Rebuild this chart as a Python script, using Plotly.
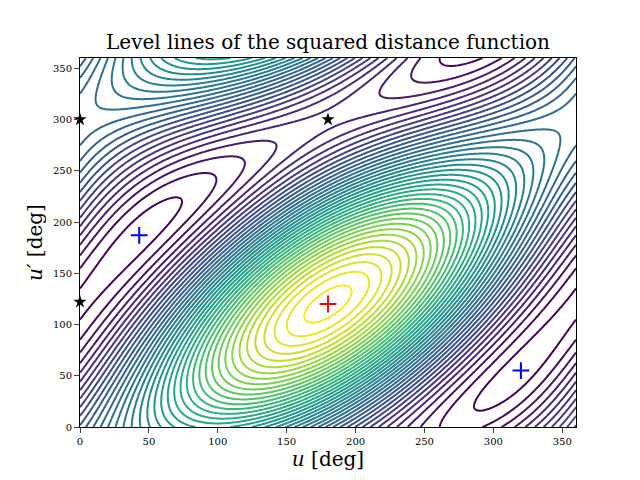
import numpy as np
import plotly.graph_objects as go

# critical points
max_u, max_v = [180], [120]
min_u, min_v = [43, 320], [187, 55]
sad_u, sad_v = [0, 0, 180], [122, 300, 300]
xticks = [0, 50, 100, 150, 200, 250, 300, 350]

# periodic model of the squared distance (cosine terms about the maximum)
A, B, C = 1.0, 0.6, 0.44
u = np.linspace(0, 360, 361)
v = np.linspace(0, 360, 361)
U, V = np.meshgrid(u, v)
x = np.radians(U - max_u[0]); y = np.radians(V - max_v[0])
Z = A*np.cos(x - y) + B*np.cos(x) + C*np.cos(y)

fig = go.Figure()
fig.add_trace(go.Contour(x=u, y=v, z=Z, colorscale="Viridis", showscale=False,
    contours=dict(coloring="lines", start=Z.min()+0.04, end=Z.max(), size=(Z.max()-Z.min())/40),
    line=dict(width=2)))
fig.add_trace(go.Scatter(x=max_u, y=max_v, mode="markers",
    marker=dict(symbol="cross-thin", size=12, line=dict(color="red", width=2))))
fig.add_trace(go.Scatter(x=min_u, y=min_v, mode="markers",
    marker=dict(symbol="cross-thin", size=12, line=dict(color="blue", width=2))))
fig.add_trace(go.Scatter(x=sad_u, y=sad_v, mode="markers", cliponaxis=False,
    marker=dict(symbol="star", size=10, color="black")))
ax = dict(range=[0, 360], showgrid=False, zeroline=False, ticks="outside", mirror=True,
          showline=True, linecolor="black", tickfont=dict(size=10, family="DejaVu Serif"),
          tickvals=xticks, automargin=False)
fig.update_layout(width=640, height=480, plot_bgcolor="white", paper_bgcolor="white",
    showlegend=False, margin=dict(l=72, r=72, t=50, b=61, autoexpand=False),
    font=dict(family="DejaVu Serif", color="black"),
    title=dict(text="Level lines of the squared distance function", x=0.5, y=0.93,
               xanchor="center", yanchor="middle", font=dict(size=20)),
    xaxis=dict(ax, title=dict(text="<i>u</i> [deg]", font=dict(size=20), standoff=4)),
    yaxis=dict(ax, title=dict(text="<i>u′</i> [deg]", font=dict(size=20), standoff=4)))
fig.write_html("out.html")
